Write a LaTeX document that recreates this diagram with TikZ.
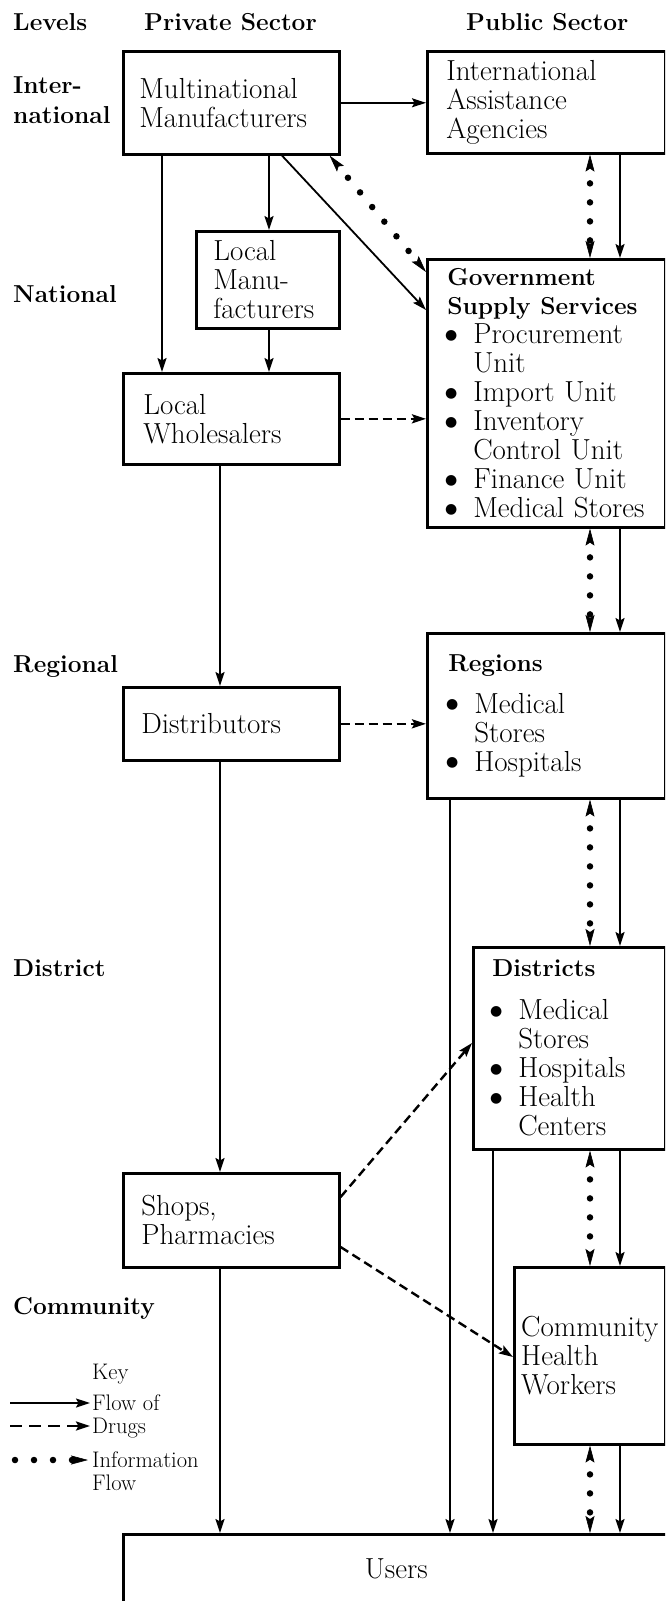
\documentclass[tikz,border=0pt]{standalone}
\usepackage{fontspec}
\newfontfamily\dvfont{DejaVu Sans}
\usetikzlibrary{arrows.meta}
\newcommand\hb[1]{{\fontsize{24.5}{29}\selectfont\bfseries #1}}
\newcommand\bl{\makebox[26pt][l]{\makebox[8pt][c]{\raisebox{4.5pt}{\dvfont\fontsize{14}{14}\selectfont ●}}}}
\newcommand\ind{\hspace*{26pt}}
\begin{document}
\begin{tikzpicture}[x=1pt,y=-1pt,
  every node/.style={font=\fontsize{29}{29}\selectfont},
  box/.style={draw, line width=2.6pt, anchor=north west, inner ysep=0pt, align=left},
  lab/.style={font=\fontsize{24.5}{30}\selectfont\bfseries, inner sep=0pt},
  keytxt/.style={font=\fontsize{22.5}{22.5}\selectfont, inner sep=0pt, anchor=north west, align=left},
  tip/.tip={Stealth[length=14pt,width=9pt,inset=2.5pt]},
  itip/.tip={Stealth[length=17pt,width=9pt,inset=3pt,line width=0.6pt]},
  flow/.style={line width=1.8pt, -tip},
  drugs/.style={line width=2.4pt, dash pattern=on 9pt off 5pt, -tip},
  info/.style={line width=6.5pt, line cap=round, dash pattern=on 0pt off 19pt, dash phase=4pt, itip-itip},
  infoend/.style={line width=6.5pt, line cap=round, dash pattern=on 0pt off 19pt, -itip}
]
\useasboundingbox (0,0) rectangle (665,1601);
\fill[white] (0,0) rectangle (665,1601);
\begin{scope}
\clip (0,0) rectangle (665,1601);

% headers and level labels
\node[lab, anchor=base west] (hlev) at (13,30) {Levels};
\node[lab, anchor=base west] (hpriv) at (144,30) {Private Sector};
\node[lab, anchor=base west] (hpub) at (466,30) {Public Sector};
\node[lab, anchor=north west, align=left] (linter) at (13,76.2) {Inter-\\national};
\node[lab, anchor=base west] (lnat) at (13,302) {National};
\node[lab, anchor=base west] (lreg) at (13,672) {Regional};
\node[lab, anchor=base west] (ldis) at (13,976) {District};
\node[lab, anchor=base west] (lcom) at (13,1314) {Community};

% boxes
\node[box, minimum width=216pt, minimum height=103pt, inner xsep=16pt, text width=184pt] (mm) at (122,50) {Multinational\\Manufacturers};
\node[box, minimum width=238pt, minimum height=102pt, inner xsep=19pt, text width=200pt] (ia) at (426,50) {International\\Assistance\\Agencies};
\node[box, minimum width=143pt, minimum height=97pt, inner xsep=17pt, text width=109pt] (lm) at (195,230) {Local\\Manu-\\facturers};
\node[box, minimum width=238pt, minimum height=268pt, inner xsep=20pt, text width=198pt] (gov) at (426,258)
  {\hb{Government}\\\hb{Supply Services}\\\bl Procurement\\\ind Unit\\\bl Import Unit\\\bl Inventory\\\ind Control Unit\\\bl Finance Unit\\\bl Medical Stores};
\node[box, minimum width=216pt, minimum height=91pt, inner xsep=20pt, text width=176pt] (lw) at (122,372) {Local\\Wholesalers};
\node[box, minimum width=238pt, minimum height=165pt, inner xsep=21pt, text width=196pt] (reg) at (426,632)
  {\hb{Regions}\\[13pt]\bl Medical\\\ind Stores\\\bl Hospitals};
\node[box, minimum width=216pt, minimum height=73pt, inner xsep=18pt, text width=180pt] (dist) at (122,686) {Distributors};
\node[box, minimum width=192pt, minimum height=202pt, inner xsep=19pt, text width=154pt] (dis) at (472,946)
  {\hb{Districts}\\[14pt]\bl Medical\\\ind Stores\\\bl Hospitals\\\bl Health\\\ind Centers};
\node[box, minimum width=216pt, minimum height=94pt, inner xsep=18pt, text width=180pt] (shops) at (122,1172) {Shops,\\Pharmacies};
\node[box, minimum width=151pt, minimum height=177pt, inner xsep=0pt] (chw) at (513,1266) {Community\\Health\\Workers};
\node[box, minimum width=546pt, minimum height=70pt, align=center] (users) at (122,1533) {Users};

% connectors
\draw[flow] (mm.east) -- (mm.east -| ia.west);
\draw[flow] ([xshift=40pt]mm.south west) -- ([xshift=40pt]lw.north west);
\draw[flow] ([xshift=147pt]mm.south west) -- ([xshift=74pt]lm.north west);
\draw[flow] ([xshift=160pt]mm.south west) -- ([yshift=-52pt]gov.north west);
\draw[info] ([xshift=-11pt]mm.south east) -- ([yshift=-14pt]gov.north west);
\draw[info] ([xshift=164pt]ia.south west) -- ([xshift=164pt]gov.north west);
\draw[flow] ([xshift=194pt]ia.south west) -- ([xshift=194pt]gov.north west);
\draw[flow] ([xshift=74pt]lm.south west) -- ([xshift=147pt]lw.north west);
\draw[drugs] (lw.east) -- (lw.east -| gov.west);
\draw[flow] ([xshift=98pt]lw.south west) -- ([xshift=98pt]dist.north west);
\draw[info] ([xshift=164pt]gov.south west) -- ([xshift=164pt]reg.north west);
\draw[flow] ([xshift=194pt]gov.south west) -- ([xshift=194pt]reg.north west);
\draw[drugs] (dist.east) -- (dist.east -| reg.west);
\draw[flow] ([xshift=98pt]dist.south west) -- ([xshift=98pt]shops.north west);
\draw[info] ([xshift=164pt]reg.south west) -- ([xshift=118pt]dis.north west);
\draw[flow] ([xshift=194pt]reg.south west) -- ([xshift=148pt]dis.north west);
\draw[flow] ([xshift=24pt]reg.south west) -- ([xshift=328pt]users.north west);
\draw[flow] ([xshift=21pt]dis.south west) -- ([xshift=371pt]users.north west);
\draw[drugs] ([yshift=-25pt]shops.north east) -- ([yshift=-97pt]dis.north west);
\draw[drugs] ([yshift=-75pt]shops.north east) -- ([yshift=-91pt]chw.north west);
\draw[info] ([xshift=118pt]dis.south west) -- ([xshift=77pt]chw.north west);
\draw[flow] ([xshift=148pt]dis.south west) -- ([xshift=107pt]chw.north west);
\draw[info] ([xshift=77pt]chw.south west) -- ([xshift=468pt]users.north west);
\draw[flow] ([xshift=107pt]chw.south west) -- ([xshift=498pt]users.north west);
\draw[flow] ([xshift=98pt]shops.south west) -- ([xshift=98pt]users.north west);

% key
\node[keytxt, anchor=base west] (key) at (92,1379) {Key};
\node[keytxt] (kflow) at (92,1394.7) {Flow of\\Drugs};
\node[keytxt, font=\fontsize{22.5}{23}\selectfont] (kinfo) at (92,1451.7) {Information\\Flow};
\coordinate (ks1) at (10,1403);
\coordinate (ks2) at (10,1426);
\coordinate (ks3) at (15,1460);
\draw[flow, shorten >=2pt] (ks1) -- (ks1 -| kflow.west);
\draw[line width=2.4pt, dash pattern=on 12pt off 7pt, -tip, shorten >=2pt] (ks2) -- (ks2 -| kflow.west);
\draw[infoend, shorten >=4pt] (ks3) -- (ks3 -| kinfo.west);
\end{scope}
\end{tikzpicture}
\end{document}
